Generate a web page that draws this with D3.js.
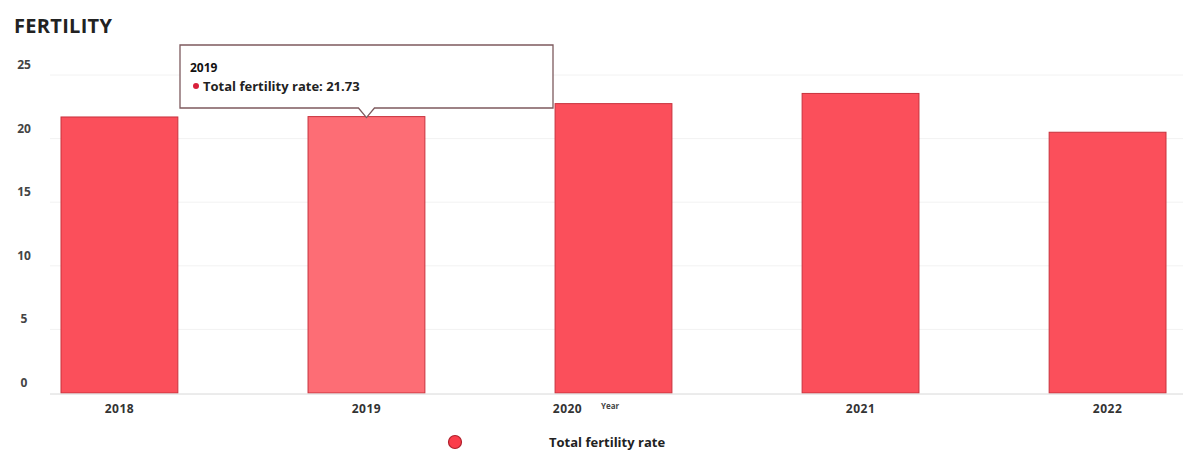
<!DOCTYPE html>
<html>
<head>
<meta charset="utf-8">
<script src="https://cdn.jsdelivr.net/npm/d3@7"></script>
<style>
  body { margin: 0; background: #fff; }
  text { font-family: "Open Sans", Lato, sans-serif; }
</style>
</head>
<body>
<script>
var width = 1183;
var height = 452;

var years = ["2018", "2019", "2020", "2021", "2022"];
var fertility = [21.7, 21.73, 22.75, 23.55, 20.5];
var yTicks = [0, 5, 10, 15, 20, 25];
var seriesName = "Total fertility rate";
var hoverIndex = 1; // 2019 is highlighted with the tooltip

var svg = d3.select("body")
    .append("svg")
    .attr("width", width)
    .attr("height", height);

var x = d3.scaleBand()
    .domain(years)
    .range([61, 1166])
    .paddingInner(0.527)
    .paddingOuter(0);

var y = d3.scaleLinear()
    .domain([0, 25])
    .range([393, 75]);

// title
svg.append("text")
    .attr("x", 14)
    .attr("y", 33)
    .attr("font-size", "20px")
    .attr("font-weight", "bold")
    .attr("letter-spacing", "0.3px")
    .attr("fill", "#222")
    .text("FERTILITY");

// grid lines
svg.append("g")
    .selectAll("line")
    .data(yTicks.slice(1))
    .enter()
    .append("line")
    .attr("x1", 50)
    .attr("x2", width)
    .attr("y1", function(d) { return y(d); })
    .attr("y2", function(d) { return y(d); })
    .attr("stroke", "#f2f2f2");

// y labels sit a little above their grid line
svg.append("g")
    .selectAll("text")
    .data(yTicks)
    .enter()
    .append("text")
    .attr("x", 24)
    .attr("y", function(d) { return y(d) - 6; })
    .attr("text-anchor", "middle")
    .attr("font-size", "12px")
    .attr("font-weight", "bold")
    .attr("fill", "#444")
    .text(function(d) { return d; });

// bars
svg.append("g")
    .selectAll("rect")
    .data(fertility)
    .enter()
    .append("rect")
    .attr("x", function(d, i) { return x(years[i]); })
    .attr("y", function(d) { return y(d); })
    .attr("width", x.bandwidth())
    .attr("height", function(d) { return y(0) - y(d); })
    .attr("fill", function(d, i) { return i == hoverIndex ? "#fd6d75" : "#fb4f5b"; })
    .attr("stroke", "#c8323d")
    .attr("stroke-width", 1);

// x axis line
svg.append("line")
    .attr("x1", 50)
    .attr("x2", width)
    .attr("y1", y(0) + 1)
    .attr("y2", y(0) + 1)
    .attr("stroke", "#d8d8d8");

// x labels (the middle one is pushed left to make room for the axis title)
svg.append("g")
    .selectAll("text")
    .data(years)
    .enter()
    .append("text")
    .attr("x", function(d, i) {
        var cx = x(d) + x.bandwidth() / 2;
        return i == 2 ? cx - 46 : cx;
    })
    .attr("y", 413)
    .attr("text-anchor", "middle")
    .attr("font-size", "12px")
    .attr("font-weight", "bold")
    .attr("letter-spacing", "0.5px")
    .attr("fill", "#333")
    .text(function(d) { return d; });

svg.append("text")
    .attr("x", 601)
    .attr("y", 409)
    .attr("font-size", "8px")
    .attr("font-weight", "bold")
    .attr("fill", "#444")
    .text("Year");

// legend
svg.append("circle")
    .attr("cx", 455)
    .attr("cy", 442)
    .attr("r", 6.5)
    .attr("fill", "#fb3d4b")
    .attr("stroke", "#b0202c")
    .attr("stroke-width", 1.2);

svg.append("text")
    .attr("x", 549)
    .attr("y", 447)
    .attr("font-size", "13px")
    .attr("font-weight", "bold")
    .attr("fill", "#222")
    .text(seriesName);

// tooltip
var tipX = x(years[hoverIndex]) + x.bandwidth() / 2;
var tipY = y(fertility[hoverIndex]);
var boxL = 180, boxR = 553, boxT = 45, boxB = 108;
var tip = svg.append("g");
tip.append("path")
    .attr("d", "M" + boxL + "," + boxT + " L" + boxR + "," + boxT + " L" + boxR + "," + boxB +
        " L" + (tipX + 8) + "," + boxB + " L" + tipX + "," + (tipY + 1) + " L" + (tipX - 8) + "," + boxB +
        " L" + boxL + "," + boxB + " Z")
    .attr("fill", "#fff")
    .attr("stroke", "#7d5a5e")
    .attr("stroke-width", 1.3);

tip.append("text")
    .attr("x", 190)
    .attr("y", 72)
    .attr("font-size", "12px")
    .attr("font-weight", "bold")
    .attr("fill", "#111")
    .text(years[hoverIndex]);

tip.append("circle")
    .attr("cx", 196)
    .attr("cy", 86)
    .attr("r", 3)
    .attr("fill", "#d8203a");

tip.append("text")
    .attr("x", 203)
    .attr("y", 91)
    .attr("font-size", "13px")
    .attr("font-weight", "bold")
    .attr("fill", "#222")
    .text(seriesName + ": " + fertility[hoverIndex]);
</script>
</body>
</html>
